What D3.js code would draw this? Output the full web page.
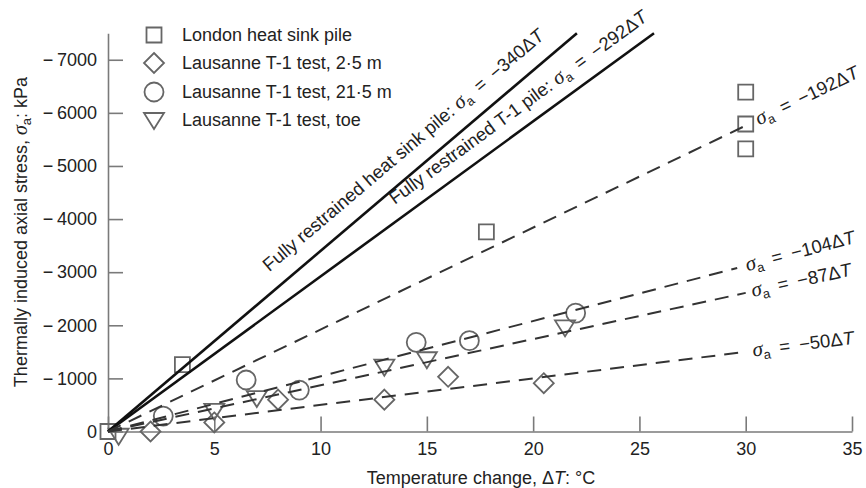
<!DOCTYPE html>
<html>
<head>
<meta charset="utf-8">
<script src="https://cdn.jsdelivr.net/npm/d3@7"></script>
<style>
  body { margin: 0; background: #fff; }
  svg { display: block; font-family: "Liberation Sans", Arial, sans-serif; }
</style>
</head>
<body>
<svg id="chart" width="866" height="488"></svg>
<script>
// data: [ΔT (°C), σa (kPa)]
const londonPile = [[0, 0], [3.5, -1260], [17.8, -3760], [30, -6390], [30, -5790], [30, -5320]];
const lausanne25 = [[2, 0], [5, -170], [8, -600], [13, -600], [16, -1030], [20.5, -910]];
const lausanne215 = [[2.6, -290], [6.5, -970], [9, -780], [14.5, -1680], [17, -1710], [22, -2230]];
const lausanneToe = [[0.5, 80], [5, -390], [7, -630], [13, -1220], [15, -1360], [21.5, -1960]];

const seriesNames = ['London heat sink pile', 'Lausanne T-1 test, 2·5 m', 'Lausanne T-1 test, 21·5 m', 'Lausanne T-1 test, toe'];
const seriesShapes = ['square', 'diamond', 'circle', 'triangle'];

// fitted / restrained lines  σa = k ΔT
const lineCoefs = [-340, -292, -192, -104, -87, -50];
const lineEndT = [null, null, 30, 29.6, 30, 30];   // null: run to top of axis
const lineSolid = [true, true, false, false, false, false];
const linePrefix = ['Fully restrained heat sink pile: ', 'Fully restrained T-1 pile: ', '', '', '', ''];

const xTicks = [0, 5, 10, 15, 20, 25, 30, 35];
const yTicks = [0, -1000, -2000, -3000, -4000, -5000, -6000, -7000];

const svg = d3.select('#chart');
const x0 = 108, x1 = 852, yZero = 431.5, yTop = 33.2;

const x = d3.scaleLinear().domain([0, 35]).range([x0, x1]);
const y = d3.scaleLinear().domain([0, -7500]).range([yZero, yTop]);

const axisColor = '#7a7a7a';

// Y axis
const yAxis = svg.append('g').attr('transform', `translate(${x0},0)`);
yAxis.call(d3.axisLeft(y).tickValues(d3.range(0, -7401, -200)).tickSizeInner(-7).tickSizeOuter(0).tickFormat(''));
yAxis.call(d3.axisLeft(y).tickValues(yTicks).tickSizeInner(-15).tickSizeOuter(0).tickPadding(11)
  .tickFormat(d => d === 0 ? '0' : '−\u2009' + Math.abs(d)));
yAxis.selectAll('path, line').attr('stroke', axisColor).attr('stroke-width', 1.6);
yAxis.selectAll('text').attr('font-size', 18).attr('fill', '#222').attr('font-family', '"Liberation Sans", Arial, sans-serif');

// X axis
const xAxis = svg.append('g').attr('transform', `translate(0,${yZero})`);
xAxis.call(d3.axisBottom(x).tickValues(d3.range(0, 35.1, 1)).tickSizeInner(-7).tickSizeOuter(0).tickFormat(''));
xAxis.call(d3.axisBottom(x).tickValues(xTicks).tickSizeInner(-15).tickSizeOuter(0).tickPadding(11));
xAxis.selectAll('path, line').attr('stroke', axisColor).attr('stroke-width', 1.6);
xAxis.selectAll('text').attr('font-size', 18).attr('fill', '#222').attr('font-family', '"Liberation Sans", Arial, sans-serif');

// axis titles
svg.append('text')
  .attr('x', 481).attr('y', 484)
  .attr('text-anchor', 'middle').attr('font-size', 18).attr('fill', '#222')
  .call(t => {
    t.append('tspan').text('Temperature change, Δ');
    t.append('tspan').attr('font-style', 'italic').text('T');
    t.append('tspan').text(': °C');
  });

svg.append('text')
  .attr('transform', 'translate(27,232) rotate(-90)')
  .attr('text-anchor', 'middle').attr('font-size', 18).attr('fill', '#222')
  .call(t => {
    t.append('tspan').text('Thermally induced axial stress, ');
    t.append('tspan').attr('font-family', '"Liberation Serif", serif').attr('font-style', 'italic').attr('font-size', 20).text('σ');
    t.append('tspan').attr('font-size', 13).attr('dy', 4).text('a');
    t.append('tspan').attr('dy', -4).text(': kPa');
  });

// markers
const symbolPath = (shape, cx, cy) => {
  if (shape === 'square') return `M${cx - 7.5},${cy - 7.5}h15v15h-15Z`;
  if (shape === 'diamond') return `M${cx},${cy - 10}L${cx + 10},${cy}L${cx},${cy + 10}L${cx - 10},${cy}Z`;
  if (shape === 'triangle') return `M${cx - 10},${cy - 7}L${cx + 10},${cy - 7}L${cx},${cy + 9}Z`;
  return `M${cx - 9.5},${cy}a9.5,9.5 0 1,0 19,0a9.5,9.5 0 1,0 -19,0Z`;
};

const allSeries = [londonPile, lausanne25, lausanne215, lausanneToe];
allSeries.forEach((data, i) => {
  svg.append('g').selectAll('path')
    .data(data)
    .join('path')
    .attr('d', d => symbolPath(seriesShapes[i], x(d[0]), y(d[1])))
    .attr('fill', 'none')
    .attr('stroke', '#666')
    .attr('stroke-width', 1.8);
});

// lines
const line = d3.line().x(d => x(d[0])).y(d => y(d[1]));
const lineG = svg.append('g');
lineCoefs.forEach((k, i) => {
  const tEnd = lineEndT[i] == null ? -7500 / k : lineEndT[i];
  lineG.append('path')
    .attr('d', line([[0, 0], [tEnd, k * tEnd]]))
    .attr('fill', 'none')
    .attr('stroke', lineSolid[i] ? '#111' : '#333')
    .attr('stroke-width', lineSolid[i] ? 2.6 : 2)
    .attr('stroke-dasharray', lineSolid[i] ? null : '14,9');
});

// line labels: position along the line (ΔT), anchor, perpendicular shift, gap along the line
const labelT = [14.6, 19.85, 30, 29.6, 30, 30];
const labelAnchor = ['middle', 'middle', 'start', 'start', 'start', 'start'];
const labelShift = [-17, -14, 0, 0, 0, 0];
const labelGap = [0, 0, 12, 9, 6, 7];

lineCoefs.forEach((k, i) => {
  const angle = Math.atan2(y(k) - y(0), x(1) - x(0)) * 180 / Math.PI;
  const px = x(labelT[i]), py = y(k * labelT[i]);
  const t = svg.append('text')
    .attr('transform', `translate(${px},${py}) rotate(${angle})`)
    .attr('x', labelGap[i])
    .attr('y', labelShift[i])
    .attr('dy', labelShift[i] === 0 ? '0.3em' : null)
    .attr('text-anchor', labelAnchor[i])
    .attr('font-size', 18.5)
    .attr('fill', '#222');
  if (linePrefix[i]) t.append('tspan').text(linePrefix[i]);
  t.append('tspan').attr('font-family', '"Liberation Serif", serif').attr('font-style', 'italic').attr('font-size', 21).text('σ');
  t.append('tspan').attr('font-size', 13).attr('dy', 4).text('a');
  t.append('tspan').attr('dy', -4).text(`\u2002=\u2002−${Math.abs(k)}Δ`);
  t.append('tspan').attr('font-style', 'italic').text('T');
});

// legend
const legendY = [35, 63, 92, 120];
const legend = svg.append('g');
seriesNames.forEach((name, i) => {
  legend.append('path')
    .attr('d', symbolPath(seriesShapes[i], 154, legendY[i]))
    .attr('fill', 'none').attr('stroke', '#666').attr('stroke-width', 1.8);
  legend.append('text')
    .attr('x', 182).attr('y', legendY[i]).attr('dy', '0.35em')
    .attr('font-size', 18).attr('fill', '#222')
    .text(name);
});
</script>
</body>
</html>
